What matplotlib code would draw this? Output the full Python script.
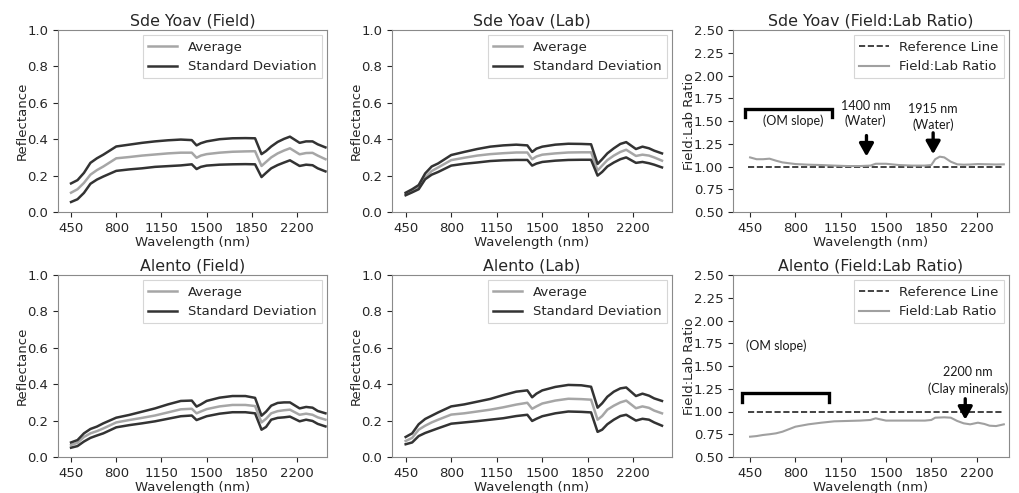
import numpy as np
import matplotlib
matplotlib.use("Agg")
import matplotlib.pyplot as plt

# wavelengths (nm) of the read points
wl = [450, 500, 550, 600, 650, 700, 800, 900, 1000, 1100, 1200, 1300, 1385, 1422, 1455,
      1500, 1600, 1700, 1800, 1875, 1925, 1960, 2000, 2050, 2100, 2145, 2220, 2270, 2320,
      2360, 2420]

# Sde Yoav field
sy_field_hi = [0.157, 0.175, 0.215, 0.27, 0.295, 0.315, 0.36, 0.37, 0.38, 0.388, 0.394, 0.398,
               0.395, 0.366, 0.378, 0.388, 0.40, 0.405, 0.406, 0.405, 0.318, 0.335, 0.36,
               0.385, 0.402, 0.414, 0.38, 0.388, 0.388, 0.372, 0.355]
sy_field_avg = [0.106, 0.125, 0.16, 0.205, 0.23, 0.25, 0.295, 0.302, 0.31, 0.316, 0.322, 0.326,
                0.326, 0.298, 0.31, 0.318, 0.326, 0.331, 0.333, 0.334, 0.253, 0.275, 0.30,
                0.322, 0.338, 0.35, 0.317, 0.324, 0.325, 0.31, 0.29]
sy_field_lo = [0.055, 0.07, 0.105, 0.155, 0.178, 0.195, 0.226, 0.234, 0.24, 0.248, 0.252, 0.256,
               0.262, 0.236, 0.248, 0.255, 0.26, 0.262, 0.263, 0.262, 0.192, 0.215, 0.24,
               0.258, 0.272, 0.284, 0.253, 0.26, 0.257, 0.24, 0.223]

# Sde Yoav lab
sy_lab_hi = [0.106, 0.125, 0.148, 0.212, 0.25, 0.267, 0.313, 0.33, 0.346, 0.359, 0.366, 0.37,
             0.366, 0.33, 0.348, 0.359, 0.37, 0.375, 0.374, 0.372, 0.264, 0.29, 0.322,
             0.35, 0.374, 0.384, 0.346, 0.359, 0.35, 0.337, 0.322]
sy_lab_avg = [0.10, 0.115, 0.135, 0.19, 0.225, 0.245, 0.285, 0.298, 0.31, 0.318, 0.323, 0.327,
              0.327, 0.29, 0.305, 0.315, 0.322, 0.327, 0.328, 0.328, 0.228, 0.255, 0.285,
              0.31, 0.33, 0.342, 0.308, 0.315, 0.31, 0.30, 0.282]
sy_lab_lo = [0.092, 0.108, 0.125, 0.18, 0.205, 0.22, 0.255, 0.265, 0.272, 0.28, 0.284, 0.286,
             0.286, 0.255, 0.266, 0.275, 0.282, 0.286, 0.287, 0.287, 0.20, 0.22, 0.25,
             0.272, 0.29, 0.30, 0.27, 0.275, 0.268, 0.26, 0.245]

# Alento field
al_field_hi = [0.08, 0.093, 0.13, 0.154, 0.167, 0.185, 0.216, 0.231, 0.249, 0.267, 0.289, 0.308,
               0.31, 0.277, 0.289, 0.308, 0.326, 0.335, 0.335, 0.325, 0.227, 0.249, 0.282,
               0.297, 0.30, 0.30, 0.267, 0.275, 0.271, 0.253, 0.24]
al_field_avg = [0.066, 0.078, 0.11, 0.13, 0.142, 0.157, 0.19, 0.203, 0.215, 0.228, 0.245, 0.262,
                0.265, 0.24, 0.25, 0.263, 0.278, 0.286, 0.286, 0.28, 0.19, 0.21, 0.24,
                0.252, 0.257, 0.26, 0.232, 0.238, 0.232, 0.218, 0.205]
al_field_lo = [0.051, 0.06, 0.085, 0.105, 0.118, 0.13, 0.163, 0.175, 0.185, 0.196, 0.21, 0.224,
               0.228, 0.203, 0.212, 0.224, 0.238, 0.246, 0.246, 0.24, 0.15, 0.165, 0.205,
               0.215, 0.218, 0.222, 0.196, 0.205, 0.198, 0.182, 0.168]

# Alento lab
al_lab_hi = [0.11, 0.13, 0.18, 0.209, 0.227, 0.245, 0.278, 0.289, 0.304, 0.319, 0.34, 0.359,
             0.366, 0.328, 0.348, 0.366, 0.385, 0.396, 0.394, 0.386, 0.271, 0.295, 0.331,
             0.359, 0.377, 0.382, 0.335, 0.348, 0.337, 0.322, 0.308]
al_lab_avg = [0.088, 0.105, 0.15, 0.172, 0.19, 0.205, 0.233, 0.24, 0.25, 0.26, 0.273, 0.288,
              0.298, 0.265, 0.278, 0.294, 0.31, 0.32, 0.318, 0.315, 0.205, 0.225, 0.26,
              0.282, 0.30, 0.31, 0.268, 0.278, 0.27, 0.255, 0.24]
al_lab_lo = [0.07, 0.08, 0.115, 0.132, 0.145, 0.158, 0.183, 0.19, 0.197, 0.205, 0.213, 0.225,
             0.232, 0.198, 0.21, 0.224, 0.24, 0.25, 0.248, 0.245, 0.138, 0.15, 0.18,
             0.205, 0.225, 0.232, 0.20, 0.21, 0.205, 0.19, 0.172]

# field:lab ratios
wl_ratio = [450, 500, 550, 600, 650, 700, 800, 900, 1000, 1100, 1200, 1300, 1380, 1420, 1500,
            1600, 1700, 1800, 1850, 1880, 1915, 1950, 2000, 2050, 2100, 2150, 2210, 2260,
            2300, 2350, 2410]
sy_ratio = [1.10, 1.08, 1.08, 1.086, 1.064, 1.045, 1.027, 1.02, 1.016, 1.01, 1.005, 1.005,
            1.01, 1.03, 1.03, 1.016, 1.01, 1.01, 1.016, 1.08, 1.108, 1.10, 1.053, 1.024,
            1.02, 1.022, 1.027, 1.025, 1.024, 1.022, 1.024]
al_ratio = [0.723, 0.73, 0.742, 0.75, 0.76, 0.778, 0.833, 0.859, 0.877, 0.892, 0.896, 0.90,
            0.907, 0.925, 0.90, 0.90, 0.90, 0.90, 0.907, 0.932, 0.934, 0.936, 0.932, 0.896,
            0.87, 0.859, 0.877, 0.863, 0.844, 0.84, 0.859]

xticks = [450, 800, 1150, 1500, 1850, 2200]
txt = "#262626"
spine = "#8a8a8a"
avg_c = "#a6a6a6"
std_c = "#333333"

plt.rcParams["font.family"] = "DejaVu Sans"
plt.rcParams["font.size"] = 9.5
plt.rcParams["text.color"] = txt
plt.rcParams["axes.labelcolor"] = txt
plt.rcParams["xtick.color"] = txt
plt.rcParams["ytick.color"] = txt

fig = plt.figure(figsize=(10.2, 4.93), dpi=100)

pos = {
    (0, 0): [58, 30, 269], (0, 1): [392, 30, 280], (0, 2): [733, 30, 276],
    (1, 0): [58, 275, 269], (1, 1): [392, 275, 280], (1, 2): [733, 275, 276],
}
xlims = [(349, 2432), (345, 2497), (318, 2450)]


def make_ax(r, c):
    x0, y0, w = pos[(r, c)]
    ax = fig.add_axes([x0 / 1020, 1 - (y0 + 182) / 493, w / 1020, 182 / 493])
    for s in ax.spines.values():
        s.set_color(spine)
    ax.tick_params(colors=txt, length=3.5)
    ax.set_xlim(*xlims[c])
    ax.set_xticks(xticks)
    ax.set_xlabel("Wavelength (nm)", labelpad=1)
    return ax


def refl(ax, title, hi, avg, lo):
    ax.plot(wl, avg, color=avg_c, lw=1.8, label="Average")
    ax.plot(wl, hi, color=std_c, lw=1.8, label="Standard Deviation")
    ax.plot(wl, lo, color=std_c, lw=1.8)
    ax.set_ylim(0, 1)
    ax.set_yticks(np.arange(0, 1.01, 0.2))
    ax.set_yticklabels([f"{v:.1f}" for v in np.arange(0, 1.01, 0.2)])
    ax.set_ylabel("Reflectance", labelpad=-1)
    ax.set_title(title, pad=3)
    leg = ax.legend(loc="upper right", fancybox=False, edgecolor="#cccccc",
                    borderaxespad=0.4, handlelength=2.2)
    leg.get_frame().set_linewidth(0.8)


def ratio(ax, title, vals):
    ax.plot([435, 2410], [1, 1], "--", color="#222222", lw=1.2, label="Reference Line")
    ax.plot(wl_ratio, vals, color="#a0a0a0", lw=1.5, label="Field:Lab Ratio")
    ax.set_ylim(0.5, 2.5)
    yt = np.arange(0.5, 2.51, 0.25)
    ax.set_yticks(yt)
    ax.set_yticklabels([f"{v:.2f}" for v in yt])
    ax.set_ylabel("Field:Lab Ratio", labelpad=-2)
    ax.set_title(title, pad=3)
    leg = ax.legend(loc="upper right", fancybox=False, edgecolor="#cccccc",
                    borderaxespad=0.4, handlelength=2.2)
    leg.get_frame().set_linewidth(0.8)


ann = dict(family="Lato", fontsize=9, color="#1a1a1a", ha="center", va="center")
arrow = dict(arrowstyle="-|>,head_width=0.45,head_length=0.8", color="black", lw=2.4,
             shrinkA=0, shrinkB=0)

ax = make_ax(0, 0)
refl(ax, "Sde Yoav (Field)", sy_field_hi, sy_field_avg, sy_field_lo)
ax = make_ax(0, 1)
refl(ax, "Sde Yoav (Lab)", sy_lab_hi, sy_lab_avg, sy_lab_lo)
ax = make_ax(1, 0)
refl(ax, "Alento (Field)", al_field_hi, al_field_avg, al_field_lo)
ax = make_ax(1, 1)
refl(ax, "Alento (Lab)", al_lab_hi, al_lab_avg, al_lab_lo)

ax = make_ax(0, 2)
ratio(ax, "Sde Yoav (Field:Lab Ratio)", sy_ratio)
ax.plot([411, 411, 1083, 1083], [1.54, 1.628, 1.628, 1.54], color="black", lw=2.4,
        solid_joinstyle="miter")
ax.text(781, 1.50, "(OM slope)", **ann)
ax.text(1342, 1.665, "1400 nm", **ann)
ax.text(1342, 1.50, "(Water)", **ann)
ax.annotate("", xy=(1349, 1.11), xytext=(1349, 1.34), arrowprops=arrow)
ax.text(1864, 1.63, "1915 nm", **ann)
ax.text(1864, 1.456, "(Water)", **ann)
ax.annotate("", xy=(1864, 1.135), xytext=(1864, 1.37), arrowprops=arrow)

ax = make_ax(1, 2)
ratio(ax, "Alento (Field:Lab Ratio)", al_ratio)
ax.plot([391, 391, 1063, 1063], [1.10, 1.20, 1.20, 1.10], color="black", lw=2.4,
        solid_joinstyle="miter")
ax.text(419, 1.72, "(OM slope)", **{**ann, "ha": "left"})
ax.text(2135, 1.43, "2200 nm", **ann)
ax.text(2135, 1.247, "(Clay minerals)", **ann)
ax.annotate("", xy=(2112, 0.91), xytext=(2112, 1.14), arrowprops=arrow)

fig.savefig("out.png", dpi=100)
